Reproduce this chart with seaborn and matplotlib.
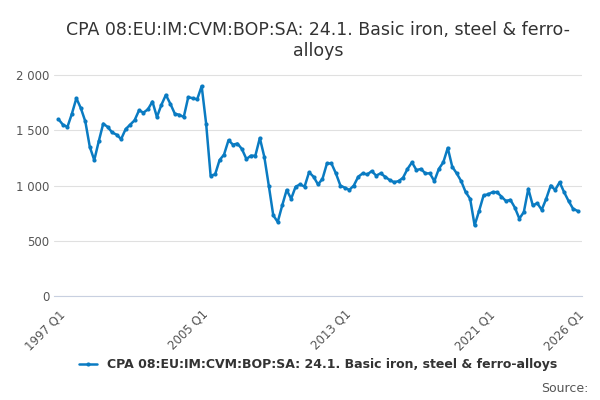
import matplotlib
matplotlib.use("Agg")
import pandas as pd
import seaborn as sns
from matplotlib import pyplot as plt
from matplotlib.ticker import FuncFormatter

values = [
    1600, 1550, 1530, 1650, 1790, 1700, 1580, 1350, 1230, 1400, 1560, 1530,
    1480, 1460, 1420, 1510, 1550, 1590, 1680, 1660, 1690, 1760, 1620, 1730,
    1820, 1740, 1650, 1640, 1620, 1800, 1790, 1780, 1900, 1560, 1090, 1100,
    1230, 1280, 1410, 1370, 1380, 1330, 1240, 1270, 1270, 1430, 1260, 1000,
    730, 670, 820, 960, 880, 990, 1010, 990, 1120, 1080, 1010, 1060,
    1200, 1200, 1110, 1000, 980, 960, 1000, 1080, 1110, 1100, 1130, 1090,
    1110, 1080, 1050, 1030, 1040, 1070, 1150, 1210, 1140, 1150, 1110, 1110,
    1040, 1150, 1210, 1340, 1170, 1110, 1040, 940, 880, 640, 770, 910,
    920, 940, 940, 900, 860, 870, 800, 700, 760, 970, 820, 840,
    780, 880, 1000, 960, 1030, 940, 860, 790, 770,
]
labels = [f"{1997 + i // 4} Q{i % 4 + 1}" for i in range(len(values))]
shown_labels = ["1997 Q1", "2005 Q1", "2013 Q1", "2021 Q1", "2026 Q1"]
series_name = "CPA 08:EU:IM:CVM:BOP:SA: 24.1. Basic iron, steel & ferro-alloys"

df = pd.DataFrame({"idx": range(len(values)), "value": values})

sns.set_style("white")
plt.rcParams["font.family"] = ["DejaVu Sans"]
fig, ax = plt.subplots(figsize=(6, 4), dpi=100)
sns.lineplot(data=df, x="idx", y="value", ax=ax, color="#0a7bc2", linewidth=1.8,
             marker="o", markersize=3, markeredgewidth=0, label=series_name)

ax.set_ylim(0, 2100)
ax.set_yticks([0, 500, 1000, 1500, 2000])
ax.yaxis.set_major_formatter(FuncFormatter(lambda v, p: f"{int(v):,}".replace(",", " ")))
ax.grid(axis="y", color="#e0e0e0", linewidth=0.8)
ax.set_xlim(-1, len(values))
tick_pos = list(range(0, len(values), 8)) + [len(values) - 1]
ax.set_xticks(tick_pos)
ax.set_xticklabels([labels[i] if labels[i] in shown_labels else "" for i in tick_pos],
                   rotation=45, ha="right", rotation_mode="anchor")
ax.tick_params(axis="x", length=5, color="#c8d0e0", labelsize=8.5, labelcolor="#555555")
ax.tick_params(axis="y", length=0, labelsize=8.5, labelcolor="#555555")
for s in ["top", "right", "left"]:
    ax.spines[s].set_visible(False)
ax.spines["bottom"].set_color("#c8d0e0")
ax.set_xlabel("")
ax.set_ylabel("")
ax.set_title("CPA 08:EU:IM:CVM:BOP:SA: 24.1. Basic iron, steel & ferro-\nalloys",
             fontsize=12.5, color="#333333")
leg = ax.legend(loc="upper center", bbox_to_anchor=(0.5, -0.22), frameon=False,
                fontsize=9, handlelength=1.5, prop={"weight": "bold", "size": 9})
for t in leg.get_texts():
    t.set_color("#333333")
fig.text(0.98, 0.02, "Source:", ha="right", fontsize=9, color="#555555")
fig.subplots_adjust(left=0.09, right=0.97, top=0.84, bottom=0.26)
fig.savefig("out.png")
